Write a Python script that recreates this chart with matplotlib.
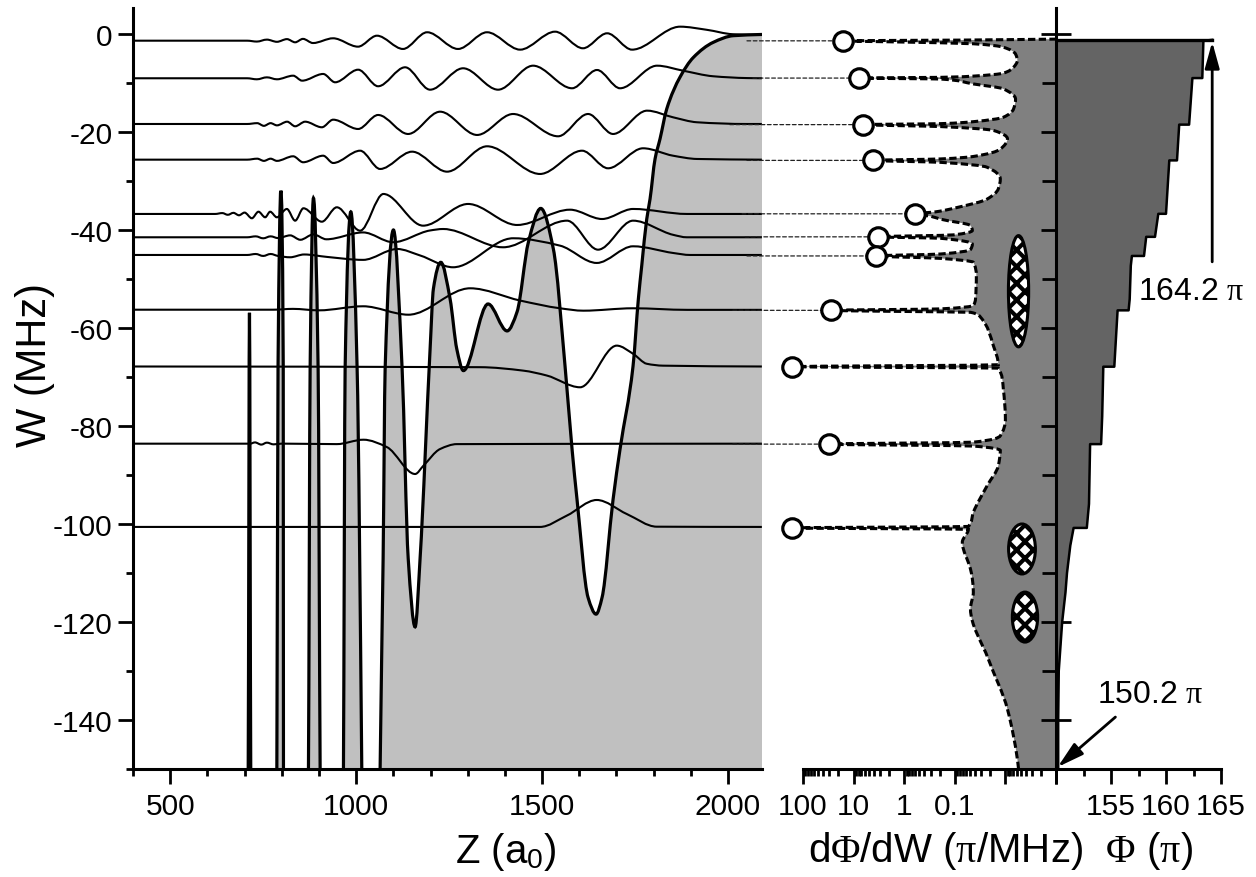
import numpy as np
import matplotlib
matplotlib.use('Agg')
import matplotlib.pyplot as plt
from matplotlib.path import Path
from matplotlib.patches import PathPatch, Ellipse, ConnectionPatch
from matplotlib.ticker import MultipleLocator, FixedLocator, FixedFormatter

plt.rcParams['font.family'] = 'Liberation Sans'
plt.rcParams['mathtext.fontset'] = 'custom'
plt.rcParams['mathtext.rm'] = 'Liberation Serif'
plt.rcParams['mathtext.it'] = 'Liberation Serif'
plt.rcParams['mathtext.sf'] = 'Liberation Sans'
plt.rcParams['axes.unicode_minus'] = False
plt.rcParams['hatch.linewidth'] = 3.0

#### resonance levels (MHz), peak dPhi/dW (pi/MHz), start of the guide lines (a0)
levels = [-1.4, -9.0, -18.5, -25.8, -36.7, -41.4, -45.3, -56.4, -67.9, -83.7, -100.8]
peak_rate = [16, 7.8, 6.5, 4.1, 0.6, 3.3, 3.6, 28, 165, 31, 165]
guide_z = [2051, 2067, 2005, 2051, 2038, 2046, 2051, 2013, 1992, 2013, 1930]

#### potential W(Z)
pot_z = [680, 709.8, 713.2, 716.6, 750, 786.8, 790, 797.6, 804, 804.6, 835,
         871.8, 876.3, 885.2, 897.8, 903.2, 935, 965.9, 970.4, 985.8, 1002.7,
         1015.2, 1040, 1064.5, 1072.6, 1078, 1100.3, 1123.7, 1140, 1158.6, 1172,
         1198.9, 1207.8, 1227.7, 1252.7, 1270.7, 1288.4, 1354.8, 1406, 1432.8,
         1463.2, 1496.5, 1530.4, 1561.8, 1580.6, 1594, 1623.7, 1645.2, 1661.3,
         1690.9, 1709.7, 1744.6, 1758.9, 1768, 1781.4, 1790.3, 1803.8, 1817.2,
         1835.2, 1871, 1906.7, 1960.5, 2014.2, 2091.4]
pot_w = [-400, -150, -56.9, -150, -400, -150, -68, -32.0, -68, -150, -400,
         -150, -68.4, -33.5, -68.4, -150, -400, -150, -68.4, -36.3, -68.4,
         -150, -400, -150, -107, -68.4, -40.0, -68.4, -107, -121.0, -107,
         -64.3, -52.0, -46.6, -54.1, -64.3, -68.7, -55.1, -60.6, -56.7,
         -42.5, -35.6, -43.9, -67.8, -84.7, -95, -115, -118.4, -115,
         -95, -84.7, -67.8, -54.1, -47.3, -37.8, -33.7, -25.5, -21.4,
         -15.3, -8.8, -4.8, -1.7, -0.35, -0.1]

#### wavefunctions, one per level (Z in a0, W in MHz)
wf_z = [
    [400, 707, 733, 760, 787, 814, 836, 857, 884, 938, 1005, 1056, 1126, 1191, 1274,
     1352, 1441, 1535, 1610, 1675, 1742, 1871, 1943, 2013, 2091],
    [400, 707, 733, 760, 787, 830.6, 854.8, 911.3, 943.5, 1005.4, 1059.1, 1131.7,
     1198.9, 1287.6, 1381.7, 1475.8, 1580.6, 1647.8, 1709.7, 1809.1, 1879, 1960, 2051, 2091],
    [400, 707, 734, 752, 770, 787, 814.5, 836, 862.9, 907.8, 938.2, 1005.4, 1059.1,
     1139.8, 1225.8, 1325.3, 1422, 1543, 1623.7, 1690.9, 1782.3, 1852, 1916.7, 2051, 2091],
    [400, 707, 734, 752, 770, 787, 830.6, 857.5, 911.3, 938.2, 1010.8, 1064.5, 1150.5,
     1244.6, 1352.2, 1494.6, 1607.5, 1677.4, 1771.5, 1852, 1916.7, 2091],
    [400, 621, 640, 655, 670, 685, 700, 719.6, 737.4, 755.4, 768.8, 786.8, 813.7, 836,
     858.3, 907.8, 948.1, 1010.8, 1073.4, 1180.1, 1301.1, 1432.8, 1575.3, 1661.3,
     1744.6, 1889.8, 2091],
    [400, 707, 730, 750, 770, 790, 822.6, 850, 885, 920, 1018.8, 1099.5, 1198.9, 1233.9,
     1395.2, 1567.2, 1650.5, 1744.6, 1853, 1889, 2091],
    [400, 707, 730, 750, 770, 790, 822.6, 860, 922, 1018.8, 1110.2, 1172, 1260.8, 1422,
     1548.4, 1647, 1744.6, 1853, 1898, 2091],
    [400, 777, 830, 900, 1018.8, 1140.7, 1306.5, 1440.9, 1548.4, 1611, 1744.6, 1890, 2091],
    [400, 1333, 1449, 1512.6, 1602.2, 1700.8, 1745.4, 1781.4, 1825.3, 2091],
    [400, 715, 728, 745, 760, 778, 800, 948, 1019.6, 1082.5, 1158.6, 1181, 1225.8, 1270.7, 2091],
    [400, 1494.6, 1566.3, 1647, 1727.7, 1808.3, 2091],
]
wf_w = [
    [-1.37, -1.37, -1.55, -1.15, -1.6, -1.05, -1.7, -1.0, -1.85, -0.88, -2.59, -0.35,
     -3.06, 0.35, -3.06, 0.35, -3.2, 0.47, -2.92, 0.14, -3.2, 1.49, 0.85, -0.05, -0.2],
    [-9.04, -9.04, -9.25, -8.85, -9.25, -8.51, -9.53, -8.16, -9.86, -7.29, -10.67, -6.80,
     -11.37, -7.0, -11.37, -6.47, -11.08, -7.35, -11.08, -6.47, -7.49, -8.63, -9.0, -9.04],
    [-18.37, -18.37, -18.2, -18.75, -18.2, -18.65, -17.9, -18.84, -17.9, -19.04, -17.49,
     -19.39, -16.53, -20.41, -15.86, -20.61, -16.33, -20.88, -16.33, -20.41, -15.65,
     -17.0, -18.02, -18.37, -18.37],
    [-25.65, -25.65, -25.45, -25.9, -25.45, -25.9, -24.96, -26.18, -24.84, -26.33, -23.82,
     -27.55, -24.02, -28.1, -22.92, -28.57, -23.82, -27.41, -23.33, -24.84, -25.51, -25.65],
    [-36.73, -36.73, -36.55, -36.9, -36.5, -37.0, -36.45, -37.61, -36.27, -37.41, -36.27,
     -37.41, -35.71, -38.1, -35.57, -38.31, -35.37, -40.14, -32.65, -39.12, -34.69,
     -38.98, -35.86, -37.76, -35.71, -36.73, -36.73],
    [-41.49, -41.49, -41.3, -41.7, -41.3, -41.65, -41.1, -42.0, -40.9, -41.9, -40.5, -42.5,
     -40.1, -39.8, -43.53, -38.1, -44.02, -38.1, -41.0, -41.49, -41.49],
    [-45.1, -45.1, -44.9, -45.3, -44.9, -45.3, -45.57, -45.0, -45.5, -46.1, -43.88, -45.2,
     -47.61, -41.69, -43.2, -46.73, -43.33, -44.7, -45.1, -45.1],
    [-56.27, -56.27, -56.1, -56.4, -55.57, -57.29, -51.9, -54.4, -55.98, -56.47, -55.98,
     -56.3, -56.3],
    [-67.86, -68.0, -68.7, -69.7, -72.1, -63.6, -65.3, -67.3, -67.69, -67.86],
    [-83.61, -83.61, -83.35, -83.8, -83.4, -83.75, -83.6, -83.7, -82.8, -84.3, -89.8,
     -88.1, -84.7, -83.7, -83.61],
    [-100.6, -100.6, -98.3, -95.1, -97.96, -100.55, -100.6],
]

#### dPhi/dW between the resonances (the peaks themselves come from levels/peak_rate)
rate_w = [-1.05, -1.25,
          -1.6, -2.0, -2.7, -4.1, -5.4, -6.8, -8.0, -8.6, -8.85,
          -9.2, -10.2, -11.2, -13.3, -15.3, -17.0, -17.9, -18.3,
          -18.9, -19.7, -21.4, -23.5, -25.0, -25.5,
          -26.2, -27.2, -29.6, -31.6, -33.7, -35.4, -36.3,
          -37.2, -37.8, -39.1, -40.1, -41.0,
          -41.7, -42.9, -44.0, -44.9,
          -45.8, -46.6, -49.3, -54.1, -55.4, -56.1,
          -56.6, -56.8, -57.8, -63.6, -67.5,
          -68.2, -72.4, -78.6, -82.0, -83.3,
          -84.1, -85.0, -88.1, -92.2, -97.6, -100.5,
          -101.1, -103.7, -109.2, -111.2, -113.9, -117.3, -127.6, -137.8, -148, -150]
rate_val = [0.001, 0.078,
            1.9, 0.043, 0.011, 0.0063, 0.0058, 0.0069, 0.011, 0.043, 0.19,
            0.19, 0.043, 0.011, 0.0063, 0.0069, 0.011, 0.043, 0.19,
            0.19, 0.017, 0.0091, 0.0126, 0.043, 0.19,
            0.19, 0.023, 0.0126, 0.0138, 0.023, 0.089, 0.24,
            0.3, 0.19, 0.049, 0.045, 0.107,
            0.19, 0.045, 0.049, 0.19,
            0.19, 0.043, 0.0375, 0.039, 0.043, 0.19,
            1.9, 0.049, 0.031, 0.0173, 0.0138,
            0.0138, 0.011, 0.010, 0.0126, 0.043,
            0.043, 0.0126, 0.0138, 0.023, 0.043, 0.054,
            0.054, 0.071, 0.049, 0.045, 0.043, 0.049, 0.0217, 0.0091, 0.0058, 0.0055]

#### accumulated phase Phi(W), in units of pi
phi_w = [-150, -140, -130, -120, -114, -110, -104.4, -100.8, -100.8, -95.9,
         -83.7, -83.7, -78, -67.9, -67.9, -60.2, -56.4, -56.4, -54.1, -47.3,
         -45.3, -45.3, -41.4, -41.4, -36.7, -36.7, -25.8, -25.8, -18.5, -18.5,
         -9.0, -9.0, -1.4, -1.2]
phi_val = [150.2, 150.2, 150.25, 150.56, 150.86, 151.0, 151.3, 151.6, 152.8, 153.0,
           153.1, 154.1, 154.2, 154.3, 155.3, 155.5, 155.6, 156.6, 156.7, 156.8,
           156.9, 158.0, 158.2, 159.0, 159.3, 160.0, 160.3, 161.0, 161.2, 162.1,
           162.4, 163.3, 163.4, 164.2]

#### hatched ellipses in the dPhi/dW panel
ell_rate = [0.0055, 0.0047, 0.0041]
ell_w = [-52.5, -105.1, -119.0]


def pchip_slopes(x, y):
    h = np.diff(x)
    d = np.diff(y) / h
    m = np.zeros(len(x))
    for k in range(1, len(x) - 1):
        if d[k - 1] * d[k] > 0:
            w1 = 2 * h[k] + h[k - 1]
            w2 = h[k] + 2 * h[k - 1]
            m[k] = (w1 + w2) / (w1 / d[k - 1] + w2 / d[k])
    m[0] = d[0]
    m[-1] = d[-1]
    return m


def smooth_verts(x, y, swap=False):
    # cubic bezier segments through the points, shape preserving
    x = np.asarray(x, float)
    y = np.asarray(y, float)
    m = pchip_slopes(x, y)
    pts = [(x[0], y[0])]
    codes = [Path.MOVETO]
    for i in range(len(x) - 1):
        h = x[i + 1] - x[i]
        pts += [(x[i] + h / 3, y[i] + m[i] * h / 3),
                (x[i + 1] - h / 3, y[i + 1] - m[i + 1] * h / 3),
                (x[i + 1], y[i + 1])]
        codes += [Path.CURVE4] * 3
    pts = np.array(pts)
    if swap:
        pts = pts[:, ::-1]
    return pts, codes


W, H = 1256, 878
fig = plt.figure(figsize=(W / 100, H / 100), dpi=100)
bot = (H - 770) / H
hgt = (770 - 9) / H
ax1 = fig.add_axes([133 / W, bot, (762 - 133) / W, hgt])
ax2 = fig.add_axes([803 / W, bot, (1056 - 803) / W, hgt], sharey=ax1)
ax3 = fig.add_axes([1056 / W, bot, (1221 - 1056) / W, hgt], sharey=ax1)
for ax in (ax1, ax2, ax3):
    ax.patch.set_visible(False)
    for s in ('top', 'right'):
        ax.spines[s].set_visible(False)
    for s in ax.spines.values():
        s.set_linewidth(2.2)
    ax.tick_params(axis='both', which='major', direction='out', length=10.8, width=2,
                   labelsize=21.5, pad=6)
    ax.tick_params(axis='both', which='minor', direction='out', length=5.2, width=2)

## left panel: potential and wavefunctions
ax1.set_xlim(400, 2091.4)
ax1.set_ylim(-150, 5.3)
ax1.xaxis.set_major_locator(MultipleLocator(500))
ax1.xaxis.set_minor_locator(MultipleLocator(100))
ax1.yaxis.set_major_locator(MultipleLocator(20))
ax1.yaxis.set_minor_locator(MultipleLocator(10))
ax1.tick_params(axis='y', which='major', pad=4)

pv, pc = smooth_verts(pot_z, pot_w)
fill_v = np.vstack([pv, [[2091.4, -400], [680, -400], [680, -400]]])
fill_c = pc + [Path.LINETO, Path.LINETO, Path.CLOSEPOLY]
ax1.add_patch(PathPatch(Path(fill_v, fill_c), facecolor='#c0c0c0', edgecolor='none', zorder=1))
ax1.add_patch(PathPatch(Path(pv, pc), fill=False, edgecolor='k', lw=2.3, zorder=4))

for zz, ww in zip(wf_z, wf_w):
    v, c = smooth_verts(zz, ww)
    ax1.add_patch(PathPatch(Path(v, c), fill=False, edgecolor='k', lw=1.5, zorder=3))

## middle panel: dPhi/dW on a reversed log axis (stored as log10)
ax2.spines['left'].set_visible(False)
ax2.tick_params(axis='y', which='both', left=False, labelleft=False)
ax2.set_xlim(2, -3)
ax2.xaxis.set_major_locator(FixedLocator([2, 1, 0, -1, -2, -3]))
ax2.xaxis.set_major_formatter(FixedFormatter(['100', '10', '1', '0.1', '', '']))
ax2.xaxis.set_minor_locator(FixedLocator([n + np.log10(k) for n in range(-3, 2) for k in range(2, 10)]))

cw = np.array(rate_w + levels)
cl = np.log10(np.array(rate_val + peak_rate))
order = np.argsort(cw)
cv, cc = smooth_verts(cw[order], cl[order], swap=True)
mid_v = np.vstack([cv, [[-3, -1.05], [-3, -150], [-3, -150]]])
mid_c = cc + [Path.LINETO, Path.LINETO, Path.CLOSEPOLY]
ax2.add_patch(PathPatch(Path(mid_v, mid_c), facecolor='#808080', edgecolor='none', zorder=1))
ax2.add_patch(PathPatch(Path(cv, cc), fill=False, edgecolor='k', lw=2.2,
                        linestyle=(0, (2.4, 1.1)), zorder=3))

for r, w, ew, eh in zip(ell_rate, ell_w, [0.40, 0.53, 0.50], [22.7, 10.2, 10.2]):
    ax2.add_patch(Ellipse((np.log10(r), w), ew, eh, facecolor='white', edgecolor='k',
                          hatch='xx', lw=2.2, zorder=4))

for z0, w, r in zip(guide_z, levels, peak_rate):
    con = ConnectionPatch(xyA=(z0, w), coordsA='data', axesA=ax1,
                          xyB=(np.log10(r), w), coordsB='data', axesB=ax2,
                          color='#222222', lw=0.9, linestyle=(0, (3, 2)), clip_on=False, zorder=5)
    ax2.add_artist(con)

ax2.plot(np.log10(peak_rate), levels, 'o', ms=14, mfc='white', mec='k', mew=2.3,
         clip_on=False, zorder=6)

## right panel: Phi(W)
ax3.set_xlim(150, 165)
ax3.xaxis.set_major_locator(FixedLocator([150, 155, 160, 165]))
ax3.xaxis.set_major_formatter(FixedFormatter(['', '155', '160', '165']))
ax3.xaxis.set_minor_locator(FixedLocator([152.5, 157.5, 162.5]))
ax3.tick_params(axis='y', which='major', direction='inout', length=21.6, labelleft=False)
ax3.tick_params(axis='y', which='minor', direction='out', length=10, labelleft=False)

ax3.fill_betweenx(phi_w, 150, phi_val, color='#646464', lw=0, zorder=2)
ax3.plot(phi_val, phi_w, color='k', lw=1.8, zorder=3)
ax3.plot([150, phi_val[-1]], [phi_w[-1], phi_w[-1]], color='k', lw=2.4, zorder=3)

arrow = dict(arrowstyle='-|>,head_length=0.8,head_width=0.22', color='k', lw=2,
             shrinkA=0, shrinkB=0, mutation_scale=20)
ax3.annotate('', xy=(164.2, -1.6), xytext=(164.2, -46.5), arrowprops=arrow,
             annotation_clip=False)
ax3.text(157.5, -52.5, r'164.2 $\pi$', fontsize=23, va='center', ha='left')
ax3.annotate('', xy=(150.15, -149.6), xytext=(155.4, -139.4), arrowprops=arrow,
             annotation_clip=False)
ax3.text(153.7, -134.7, r'150.2 $\pi$', fontsize=23, va='center', ha='left')

## axis titles
fig.text(506 / W, 1 - 863 / H, r'Z (a$_\mathsf{0}$)', fontsize=29, ha='center', va='baseline')
fig.text(1001 / W, 1 - 862 / H, r'd$\Phi$/dW ($\pi$/MHz)  $\Phi$ ($\pi$)', fontsize=29,
         ha='center', va='baseline')
fig.text(35 / W, 1 - 365 / H, 'W (MHz)', fontsize=30, rotation=90, ha='center', va='center')

fig.savefig('out.png', dpi=100)
